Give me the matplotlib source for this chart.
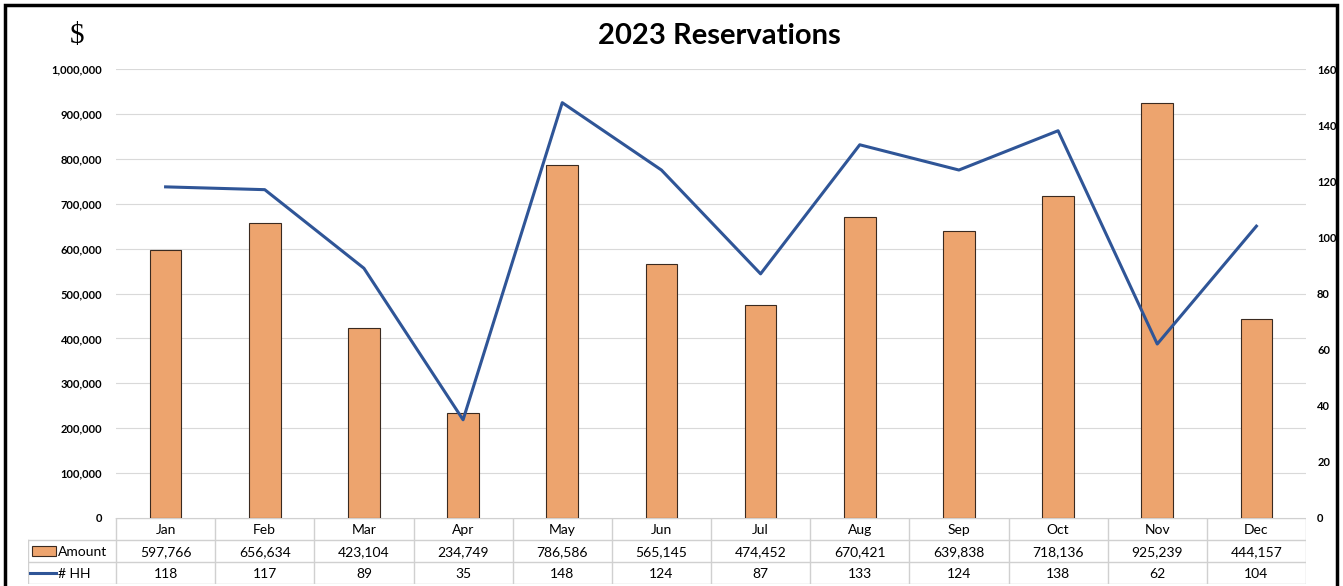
import matplotlib.pyplot as plt
from matplotlib.patches import Rectangle

# data
months = ["Jan", "Feb", "Mar", "Apr", "May", "Jun",
          "Jul", "Aug", "Sep", "Oct", "Nov", "Dec"]
amount = [597766, 656634, 423104, 234749, 786586, 565145,
          474452, 670421, 639838, 718136, 925239, 444157]
hh = [118, 117, 89, 35, 148, 124, 87, 133, 124, 138, 62, 104]

BAR_COLOR = "#EDA46E"
LINE_COLOR = "#2F5597"
GRID_COLOR = "#D9D9D9"
FONT = "Lato"

W, H = 1343, 586
fig = plt.figure(figsize=(W / 100, H / 100), dpi=100)

# plot area in pixels
x0, x1 = 116, 1306
y_top, y_bot = 69, 518
ax = fig.add_axes([x0 / W, 1 - y_bot / H, (x1 - x0) / W, (y_bot - y_top) / H])
x = list(range(len(months)))

ax.bar(x, amount, width=0.32, color=BAR_COLOR, edgecolor="#3a2a20",
       linewidth=0.8, zorder=2)
ax.set_xlim(-0.5, len(months) - 0.5)
ax.set_ylim(0, 1000000)
ax.set_yticks(range(0, 1000001, 100000))
ax.set_yticklabels([f"{v:,}" for v in range(0, 1000001, 100000)],
                   fontsize=8, fontweight="bold", family=FONT)
ax.yaxis.grid(True, color=GRID_COLOR, linewidth=0.8, zorder=0)
ax.set_xticks([])
ax.tick_params(axis="y", length=0, pad=10)
for s in ax.spines.values():
    s.set_visible(False)

ax2 = ax.twinx()
ax2.plot(x, hh, color=LINE_COLOR, linewidth=2.2, zorder=3)
ax2.set_ylim(0, 160)
ax2.set_yticks(range(0, 161, 20))
ax2.set_yticklabels([str(v) for v in range(0, 161, 20)],
                    fontsize=8, fontweight="bold", family=FONT)
ax2.tick_params(axis="y", length=0, pad=8)
for s in ax2.spines.values():
    s.set_visible(False)

# data table below the plot
row_h = 22
tab_top = y_bot
tab_left = 28
tax = fig.add_axes([tab_left / W, 1 - (tab_top + 3 * row_h) / H,
                    (x1 - tab_left) / W, 3 * row_h / H])
tax.set_xlim(tab_left, x1)
tax.set_ylim(3 * row_h, 0)
tax.axis("off")
col_w = (x1 - x0) / len(months)
lc = "#D0D0D0"
# horizontal lines
tax.plot([x0, x1], [0, 0], color=lc, lw=1)
for r in (1, 2, 3):
    tax.plot([tab_left, x1], [r * row_h, r * row_h], color=lc, lw=1)
# vertical lines
tax.plot([tab_left, tab_left], [row_h, 3 * row_h], color=lc, lw=1)
for i in range(len(months) + 1):
    xx = x0 + i * col_w
    tax.plot([xx, xx], [0, 3 * row_h], color=lc, lw=1)

rows = [months, [f"{v:,}" for v in amount], [str(v) for v in hh]]
for r, vals in enumerate(rows):
    for i, v in enumerate(vals):
        tax.text(x0 + (i + 0.5) * col_w, (r + 0.5) * row_h + 1, v,
                 ha="center", va="center", fontsize=10, family=FONT)

# legend keys in the row headers
tax.add_patch(Rectangle((32, row_h + 6), 24, 10, facecolor=BAR_COLOR,
                        edgecolor="#3a2a20", lw=0.8))
tax.text(58, 1.5 * row_h + 1, "Amount", ha="left", va="center",
         fontsize=10, family=FONT)
tax.plot([30, 56], [2.5 * row_h, 2.5 * row_h], color=LINE_COLOR, lw=2.2)
tax.text(58, 2.5 * row_h + 1, "# HH", ha="left", va="center",
         fontsize=10, family=FONT)

# title and axis unit
fig.text(719 / W, 1 - 36 / H, "2023 Reservations", ha="center", va="center",
         fontsize=21, fontweight="bold", family=FONT)
fig.text(77 / W, 1 - 36 / H, "$", ha="center", va="center",
         fontsize=21, family="Liberation Serif")

# outer border of the chart
fig.patches.append(Rectangle((5 / W, -0.05), (1337 - 5) / W, 1.05 - 5 / H,
                             transform=fig.transFigure, fill=False,
                             edgecolor="black", linewidth=2.5))

fig.savefig("out.png", dpi=100)
